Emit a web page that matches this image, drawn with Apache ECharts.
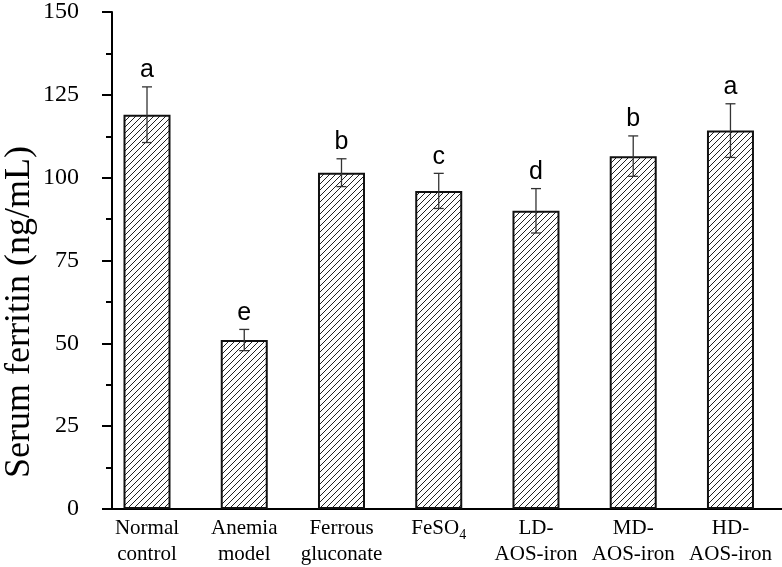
<!DOCTYPE html>
<html><head><meta charset="utf-8">
<script src="https://cdn.jsdelivr.net/npm/echarts@6/dist/echarts.min.js"></script>
<style>html,body{margin:0;padding:0;background:#fff}#c{width:782px;height:567px}</style>
</head><body><div id="c"></div>
<script>
const categories = ['Normal\ncontrol', 'Anemia\nmodel', 'Ferrous\ngluconate', 'FeSO4', 'LD-\nAOS-iron', 'MD-\nAOS-iron', 'HD-\nAOS-iron'];
const meanValues = [119, 51, 101.5, 96, 90, 106.5, 114.2];
const errorValues = [8.4, 3.2, 4.2, 5.3, 6.7, 6.1, 8.1];
const sigLetters = ['a', 'e', 'b', 'c', 'd', 'b', 'a'];
const yTitle = 'Serum ferritin (ng/mL)';
const yMin = 0, yMax = 150, yStep = 25;

// hatch pattern
const tile = document.createElement('canvas');
tile.width = 6; tile.height = 6;
const g = tile.getContext('2d');
g.fillStyle = '#fff'; g.fillRect(0, 0, 6, 6);
g.strokeStyle = '#222'; g.lineWidth = 1;
g.beginPath();
g.moveTo(-1, 7); g.lineTo(7, -1);
g.moveTo(-1, 1); g.lineTo(1, -1);
g.moveTo(5, 7); g.lineTo(7, 5);
g.stroke();

const idx = categories.map((c, i) => i);
const barData = meanValues.map((v, i) => [i, v]);
const errData = meanValues.map((v, i) => [i, v, errorValues[i]]);

const chart = echarts.init(document.getElementById('c'), null, {renderer: 'canvas'});
chart.setOption({
  backgroundColor: '#fff',
  animation: false,
  grid: {left: 112, right: 0, top: 10, bottom: 53},
  graphic: [{
    type: 'text', x: 20, y: 312, rotation: Math.PI / 2,
    style: {text: yTitle, textAlign: 'center', textVerticalAlign: 'middle',
      font: '36px "Liberation Serif", "Times New Roman", serif', fill: '#000'}
  }],
  xAxis: {
    type: 'value', min: -0.36, max: 6.53,
    splitLine: {show: false},
    axisTick: {show: false},
    axisLine: {show: true, onZero: false, lineStyle: {color: '#000', width: 2}},
    axisLabel: {
      customValues: idx,
      color: '#000', margin: 6, fontSize: 21, lineHeight: 26,
      fontFamily: '"Liberation Serif", "Times New Roman", serif',
      formatter: v => {
        const c = categories[Math.round(v)];
        if (c === 'FeSO4') return '{n|FeSO}{s|4}';
        return c;
      },
      rich: {
        n: {fontSize: 21, lineHeight: 26, fontFamily: '"Liberation Serif", serif', color: '#000'},
        s: {fontSize: 14, lineHeight: 26, padding: [14, 0, 0, 0], fontFamily: '"Liberation Serif", serif', color: '#000'}
      }
    }
  },
  yAxis: {
    type: 'value', min: yMin, max: yMax, interval: yStep,
    splitLine: {show: false},
    axisLine: {show: true, onZero: false, lineStyle: {color: '#000', width: 2}},
    axisTick: {show: true, inside: false, length: 10, lineStyle: {color: '#000', width: 2}},
    minorTick: {show: true, splitNumber: 2, length: 6, lineStyle: {color: '#000', width: 2}},
    axisLabel: {color: '#000', fontSize: 24, margin: 33, fontFamily: '"Liberation Serif", serif'}
  },
  series: [
    {
      type: 'bar', data: barData, barWidth: 47,
      itemStyle: {color: {image: tile, repeat: 'repeat'}, borderColor: '#111', borderWidth: 2},
      z: 2
    },
    {
      type: 'custom', data: errData, z: 5,
      renderItem: (params, api) => {
        const x = api.value(0), v = api.value(1), e = api.value(2);
        const t = api.coord([x, v + e]);
        const b = api.coord([x, v - e]);
        const hw = 5;
        const st = {stroke: '#333', lineWidth: 1.3};
        return {type: 'group', children: [
          {type: 'line', shape: {x1: t[0], y1: t[1], x2: b[0], y2: b[1]}, style: st},
          {type: 'line', shape: {x1: t[0] - hw, y1: t[1], x2: t[0] + hw, y2: t[1]}, style: st},
          {type: 'line', shape: {x1: b[0] - hw, y1: b[1], x2: b[0] + hw, y2: b[1]}, style: st},
          {type: 'text', style: {text: sigLetters[params.dataIndex], x: t[0], y: t[1] - 4,
            textAlign: 'center', textVerticalAlign: 'bottom',
            font: '25px "Liberation Sans", Arial, sans-serif', fill: '#000'}}
        ]};
      }
    }
  ]
});
</script></body></html>
